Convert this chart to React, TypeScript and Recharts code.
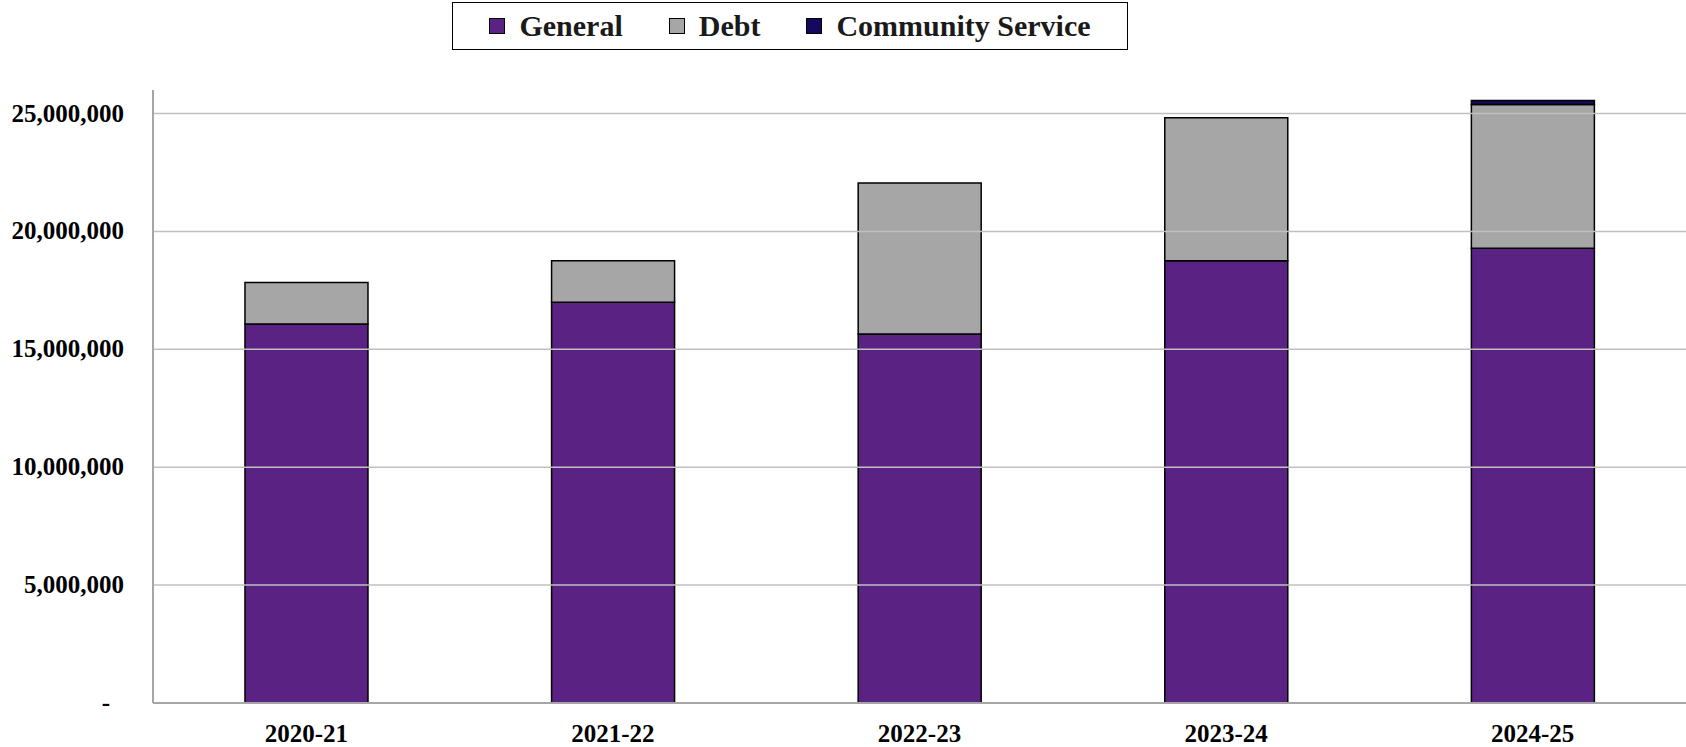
import React from 'react';
import { BarChart, Bar, XAxis, YAxis, ReferenceLine, Legend } from 'recharts';

const years = ['2020-21', '2021-22', '2022-23', '2023-24', '2024-25'];
const general = [16070000, 17000000, 15650000, 18760000, 19290000];
const debt = [1760000, 1760000, 6410000, 6060000, 6090000];
const communityService = [0, 0, 0, 0, 170000];
const yTicks = [0, 5000000, 10000000, 15000000, 20000000, 25000000];

const COLORS = {
  general: '#5a2283',
  debt: '#a6a6a6',
  community: '#14095c'
};

const FONT = '"Liberation Serif", "Times New Roman", serif';

const data = years.map((year, i) => ({
  year,
  general: general[i],
  debt: debt[i],
  community: communityService[i]
}));

const legendItems = [
  { key: 'general', label: 'General', color: COLORS.general },
  { key: 'debt', label: 'Debt', color: COLORS.debt },
  { key: 'community', label: 'Community Service', color: COLORS.community }
];

const LegendBox = () => (
  <div style={{
    boxSizing: 'border-box',
    width: 676,
    height: 48,
    border: '1.5px solid #000',
    background: '#fff',
    display: 'flex',
    alignItems: 'center',
    justifyContent: 'center',
    fontFamily: FONT,
    fontWeight: 'bold',
    fontSize: 30,
    color: '#1a1a1a'
  }}>
    {legendItems.map((item, i) => (
      <div key={item.key} style={{ display: 'flex', alignItems: 'center', marginLeft: i === 0 ? 0 : 46 }}>
        <span style={{
          display: 'inline-block',
          width: 14,
          height: 14,
          background: item.color,
          border: '1px solid #000',
          marginRight: 14
        }} />
        <span>{item.label}</span>
      </div>
    ))}
  </div>
);

const YTick = (props: any) => {
  const { x, y, payload } = props;
  const v = payload.value as number;
  const label = v === 0 ? '-' : v.toLocaleString('en-US');
  return (
    <text
      x={v === 0 ? x - 14 : x}
      y={y}
      dy={8}
      textAnchor="end"
      fontFamily={FONT}
      fontWeight="bold"
      fontSize={25}
      fill="#000"
    >
      {label}
    </text>
  );
};

const App: React.FC = () => {
  return (
    <div style={{ position: 'absolute', left: 0, top: 0, background: '#fff' }}>
      <BarChart
        width={1686}
        height={747}
        data={data}
        margin={{ top: 90, right: 0, left: 0, bottom: 0 }}
        barCategoryGap="30%"
      >
        <XAxis
          dataKey="year"
          height={44}
          tickLine={false}
          axisLine={{ stroke: '#a6a6a6', strokeWidth: 2 }}
          tickMargin={15}
          tick={{ fontFamily: FONT, fontWeight: 'bold', fontSize: 25, fill: '#000' }}
        />
        <YAxis
          width={153}
          domain={[0, 26000000]}
          ticks={yTicks}
          tickLine={false}
          axisLine={{ stroke: '#a6a6a6', strokeWidth: 2 }}
          tickMargin={23}
          tick={<YTick />}
          interval={0}
        />
        {yTicks.slice(1).map((t) => (
          <ReferenceLine key={t} y={t} stroke="#c0c0c0" strokeWidth={1.5} />
        ))}
        <Legend
          layout="horizontal"
          verticalAlign="middle"
          align="center"
          wrapperStyle={{ top: 2, left: 452, width: 676, height: 48 }}
          content={() => <LegendBox />}
        />
        <Bar dataKey="general" name="General" stackId="a" fill={COLORS.general} stroke="#000" strokeWidth={1.5} isAnimationActive={false} />
        <Bar dataKey="debt" name="Debt" stackId="a" fill={COLORS.debt} stroke="#000" strokeWidth={1.5} isAnimationActive={false} />
        <Bar dataKey="community" name="Community Service" stackId="a" fill={COLORS.community} stroke="#000" strokeWidth={1.5} isAnimationActive={false} />
      </BarChart>
    </div>
  );
};

export default App;
